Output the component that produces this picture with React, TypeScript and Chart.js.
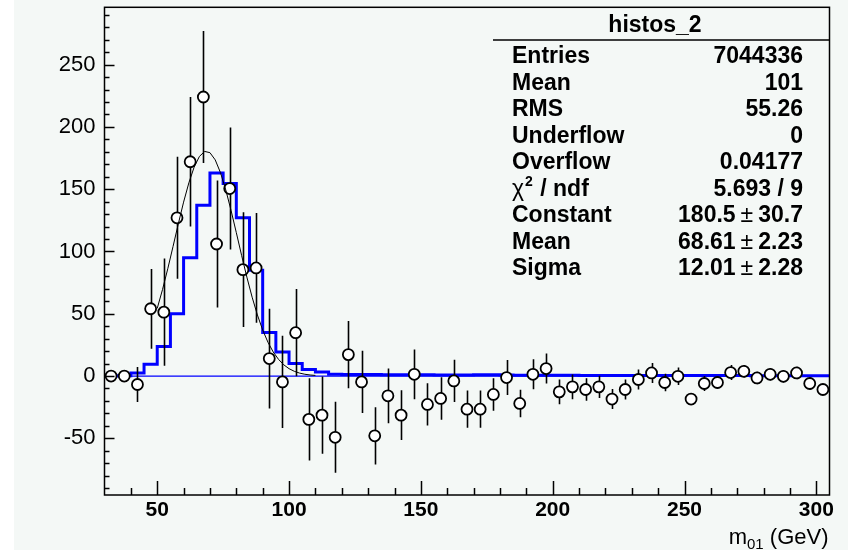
import React, { useEffect, useRef } from "react";
import { Chart, registerables } from "chart.js";

Chart.register(...registerables);

// ---- data ----
const binCenters = [
  32.5, 37.5, 42.5, 47.5, 52.5, 57.5, 62.5, 67.5, 72.5, 77.5,
  82.5, 87.5, 92.5, 97.5, 102.5, 107.5, 112.5, 117.5, 122.5, 127.5,
  132.5, 137.5, 142.5, 147.5, 152.5, 157.5, 162.5, 167.5, 172.5, 177.5,
  182.5, 187.5, 192.5, 197.5, 202.5, 207.5, 212.5, 217.5, 222.5, 227.5,
  232.5, 237.5, 242.5, 247.5, 252.5, 257.5, 262.5, 267.5, 272.5, 277.5,
  282.5, 287.5, 292.5, 297.5, 302.5,
];
const pointValues = [
  0, 0, -6.8, 54, 51.3, 127, 172, 224, 106, 150.5,
  85.4, 86.8, 14, -4.7, 34.8, -34.8, -31.4, -49.2, 17.2, -4.7,
  -48, -15.9, -31.4, 1.4, -22.8, -18, -3.9, -26.6, -26.6, -14.8,
  -1.2, -22, 1.4, 6, -12.7, -8.7, -10.8, -8.7, -18.5, -10.8,
  -2.8, 2.5, -5.2, -0.2, -18.5, -6, -5.2, 2.8, 3.8, -1.5,
  1.4, -0.2, 2.5, -6, -10.8,
];
const pointErrors = [
  0, 0, 14, 32, 43, 49, 52, 53, 51, 49,
  46, 44, 40, 37, 35, 33, 31, 28.5, 27, 25,
  23, 22, 20, 20, 17, 17, 17, 15, 15, 13,
  14, 11, 12, 12, 10, 10, 9, 9, 8, 8,
  8, 8, 7, 7, 4, 6, 5, 6, 5, 5,
  5, 5, 5, 5, 4,
];
const histEdges = [
  30, 35, 40, 45, 50, 55, 60, 65, 70, 75,
  80, 85, 90, 95, 100, 105, 110, 115, 120, 125,
  130, 135, 140, 145, 150, 155, 160, 165, 170, 175,
  180, 185, 190, 195, 200, 205, 210, 215, 220, 225,
  230, 235, 240, 245, 250, 255, 260, 265, 270, 275,
  280, 285, 290, 295, 300, 305,
];
const histValues = [
  0, 0, 0.3, 2.5, 9.4, 23.8, 50, 95, 137, 163,
  154.5, 127, 85, 35, 19.3, 10, 5.2, 3.3, 1.4, 1.3,
  1.2, 1.2, 1.0, 1.0, 1.0, 1.0, 0.8, 0.8, 0.8, 1.1,
  1.1, 0.8, 0.7, 0.7, 0.6, 0.6, 0.6, 0.5, 0.5, 0.5,
  0.5, 0.5, 0.5, 0.4, 0.4, 0.4, 0.4, 0.4, 0.4, 0.4,
  0.3, 0.3, 0.3, 0.3, 0.3,
];
const fitX = [
  50, 52, 54, 56, 58, 60, 62, 64, 66, 68, 70, 72, 74, 76, 78, 80,
  82, 84, 86, 88, 90, 92, 94, 96, 98, 100, 102, 104, 106, 108, 110,
];
const fitY = [
  54.3, 69.4, 86.1, 104.0, 122.2, 139.6, 155.1, 167.7, 176.3, 180.3, 179.3, 173.5, 163.2, 149.4, 133.0, 115.1,
  96.9, 79.4, 63.3, 49.0, 37.0, 27.1, 19.3, 13.4, 9.0, 5.9, 3.8, 2.35, 1.42, 0.83, 0.48,
];
const zeroLineX = [30, 305];
const xTicks = [50, 100, 150, 200, 250, 300];
const yTicks = [-50, 0, 50, 100, 150, 200, 250];
const xRange = [30, 305];
const yRange = [-95.5, 296];

const statsTitle = "histos_2";
const statsLabels = ["Entries", "Mean", "RMS", "Underflow", "Overflow", "χ2 / ndf", "Constant", "Mean", "Sigma"];
const statsValues = ["7044336", "101", "55.26", "0", "0.04177", "5.693 / 9", "180.5 ± 30.7", "68.61 ± 2.23", "12.01 ± 2.28"];
const xAxisTitle = { main: "m", sub: "01", rest: " (GeV)" };

const FONT = "'Liberation Sans', Arial, Helvetica, sans-serif";
const BG = "#f4f8f6";
const SF = 23;

const rootPlugin = {
  id: "rootStyle",
  beforeDatasetDraw(chart: any, args: any) {
    if (args.index !== 2) return;
    const ctx = chart.ctx;
    const xs = chart.scales.x;
    const ys = chart.scales.y;
    ctx.save();
    ctx.strokeStyle = "#000";
    ctx.lineWidth = 1.6;
    ctx.beginPath();
    binCenters.forEach((c, i) => {
      const e = pointErrors[i];
      if (!e) return;
      const px = Math.round(xs.getPixelForValue(c)) + 0.5;
      ctx.moveTo(px, ys.getPixelForValue(pointValues[i] + e));
      ctx.lineTo(px, ys.getPixelForValue(pointValues[i] - e));
    });
    ctx.stroke();
    ctx.restore();
  },
  afterDatasetsDraw(chart: any) {
    const ctx = chart.ctx;
    const { left, right, top, bottom } = chart.chartArea;
    const xs = chart.scales.x;
    const ys = chart.scales.y;
    ctx.save();
    ctx.strokeStyle = "#000";
    ctx.lineWidth = 1.5;
    ctx.beginPath();
    for (let v = 40; v <= xRange[1]; v += 10) {
      const px = Math.round(xs.getPixelForValue(v)) + 0.5;
      const len = v % 50 === 0 ? 14 : 7;
      ctx.moveTo(px, bottom);
      ctx.lineTo(px, bottom - len);
    }
    for (let v = -90; v <= yRange[1]; v += 10) {
      const py = Math.round(ys.getPixelForValue(v)) + 0.5;
      const len = v % 50 === 0 ? 10 : 5;
      ctx.moveTo(left, py);
      ctx.lineTo(left + len, py);
    }
    ctx.stroke();
    ctx.lineWidth = 1.5;
    ctx.strokeRect(left, top, right - left, bottom - top);
    ctx.restore();
  },
  afterDraw(chart: any) {
    const ctx = chart.ctx;
    const { right, bottom, top } = chart.chartArea;
    ctx.save();
    ctx.fillStyle = "#000";
    // x axis title
    const tx = right - 1;
    const ty = bottom + 49;
    ctx.font = `22px ${FONT}`;
    ctx.textBaseline = "alphabetic";
    ctx.textAlign = "left";
    const wMain = ctx.measureText(xAxisTitle.main).width;
    const wRest = ctx.measureText(xAxisTitle.rest).width;
    ctx.font = `15px ${FONT}`;
    const wSub = ctx.measureText(xAxisTitle.sub).width;
    let cx = tx - wMain - wSub - wRest;
    ctx.font = `22px ${FONT}`;
    ctx.fillText(xAxisTitle.main, cx, ty);
    cx += wMain;
    ctx.font = `15px ${FONT}`;
    ctx.fillText(xAxisTitle.sub, cx, ty + 5);
    cx += wSub;
    ctx.font = `22px ${FONT}`;
    ctx.fillText(xAxisTitle.rest, cx, ty);

    // stats box header separator
    ctx.strokeStyle = "#000";
    ctx.lineWidth = 1.5;
    ctx.beginPath();
    ctx.moveTo(479, 40);
    ctx.lineTo(right, 40);
    ctx.stroke();

    ctx.textBaseline = "middle";
    ctx.font = `bold ${SF}px ${FONT}`;
    ctx.textAlign = "center";
    ctx.fillText(statsTitle, 641, top + 18);
    const lx = 498;
    const rx = 789;
    statsLabels.forEach((lab, i) => {
      const y = 57 + i * 26.5;
      ctx.font = `bold ${SF}px ${FONT}`;
      ctx.textAlign = "left";
      if (lab.startsWith("χ2")) {
        ctx.font = `${SF}px ${FONT}`;
        ctx.fillText("χ", lx, y);
        const wc = ctx.measureText("χ").width;
        ctx.font = `bold 14px ${FONT}`;
        ctx.fillText("2", lx + wc + 1, y - 7);
        const w2 = ctx.measureText("2").width;
        ctx.font = `bold ${SF}px ${FONT}`;
        ctx.fillText(lab.slice(2), lx + wc + w2 + 2, y);
      } else {
        ctx.fillText(lab, lx, y);
      }
      const val = statsValues[i];
      ctx.textAlign = "left";
      if (val.includes("±")) {
        const [a, b] = val.split("±");
        ctx.font = `bold ${SF}px ${FONT}`;
        const wb = ctx.measureText(b.trim()).width;
        const wa = ctx.measureText(a.trim()).width;
        ctx.font = `${SF}px ${FONT}`;
        const wpm = ctx.measureText("±").width;
        let x0 = rx - wb - wpm - 5 - wa - 5;
        ctx.font = `bold ${SF}px ${FONT}`;
        ctx.fillText(a.trim(), x0, y);
        x0 += wa + 5;
        ctx.font = `${SF}px ${FONT}`;
        ctx.fillText("±", x0, y);
        x0 += wpm + 5;
        ctx.font = `bold ${SF}px ${FONT}`;
        ctx.fillText(b.trim(), x0, y);
      } else {
        ctx.font = `bold ${SF}px ${FONT}`;
        ctx.textAlign = "right";
        ctx.fillText(val, rx, y);
      }
    });
    ctx.restore();
  },
};

export default function App() {
  const ref = useRef<HTMLCanvasElement | null>(null);
  useEffect(() => {
    if (!ref.current) return;
    const histData = histValues.map((v, i) => ({ x: histEdges[i], y: v }));
    histData.push({ x: histEdges[histEdges.length - 1], y: histValues[histValues.length - 1] });
    const chart = new Chart(ref.current, {
      type: "line",
      data: {
        datasets: [
          {
            label: "hist",
            data: histData,
            stepped: "after",
            borderColor: "#0000ff",
            borderWidth: 3,
            pointRadius: 0,
            fill: false,
            order: 5,
          } as any,
          {
            label: "zero",
            data: zeroLineX.map((x) => ({ x, y: 0 })),
            borderColor: "#0000ff",
            borderWidth: 1.3,
            pointRadius: 0,
            fill: false,
            order: 4,
          },
          {
            label: "data",
            data: binCenters.map((c, i) => ({ x: c, y: pointValues[i] })),
            showLine: false,
            pointStyle: "circle",
            pointRadius: 5.5,
            pointBackgroundColor: "#ffffff",
            pointBorderColor: "#000000",
            pointBorderWidth: 1.8,
            order: 2,
          },
          {
            label: "fit",
            data: fitX.map((x, i) => ({ x, y: fitY[i] })),
            borderColor: "#000000",
            borderWidth: 1,
            pointRadius: 0,
            tension: 0,
            fill: false,
            order: 1,
          },
        ],
      },
      options: {
        animation: false,
        responsive: false,
        maintainAspectRatio: false,
        devicePixelRatio: 1,
        layout: { padding: { left: 0, right: 18.5, top: 6, bottom: 0 } },
        plugins: { legend: { display: false }, tooltip: { enabled: false }, title: { display: false } },
        events: [],
        scales: {
          x: {
            type: "linear",
            min: xRange[0],
            max: xRange[1],
            afterBuildTicks: (s: any) => {
              s.ticks = xTicks.map((v) => ({ value: v }));
            },
            afterFit: (s: any) => {
              s.height = 55;
              s.paddingLeft = 0;
              s.paddingRight = 0;
            },
            grid: { display: false, drawTicks: false },
            border: { display: false },
            ticks: {
              color: "#000",
              font: { family: FONT, size: 21, weight: "bold" },
              padding: 3,
              maxRotation: 0,
              autoSkip: false,
              callback: (v: any) => String(v),
            },
          },
          y: {
            type: "linear",
            min: yRange[0],
            max: yRange[1],
            afterBuildTicks: (s: any) => {
              s.ticks = yTicks.map((v) => ({ value: v }));
            },
            afterFit: (s: any) => {
              s.width = 90.5;
              s.paddingTop = 0;
              s.paddingBottom = 0;
            },
            grid: { display: false, drawTicks: false },
            border: { display: false },
            ticks: {
              color: "#000",
              font: { family: FONT, size: 22 },
              padding: 9,
              autoSkip: false,
              callback: (v: any) => String(v),
            },
          },
        },
      },
      plugins: [rootPlugin],
    });
    return () => chart.destroy();
  }, []);
  return (
    <div style={{ position: "fixed", left: 0, top: 0, width: 848, height: 550, background: "#ffffff" }}>
      <canvas
        ref={ref}
        width={834}
        height={550}
        style={{ position: "absolute", left: 14, top: 0, width: 834, height: 550, background: BG }}
      />
    </div>
  );
}
